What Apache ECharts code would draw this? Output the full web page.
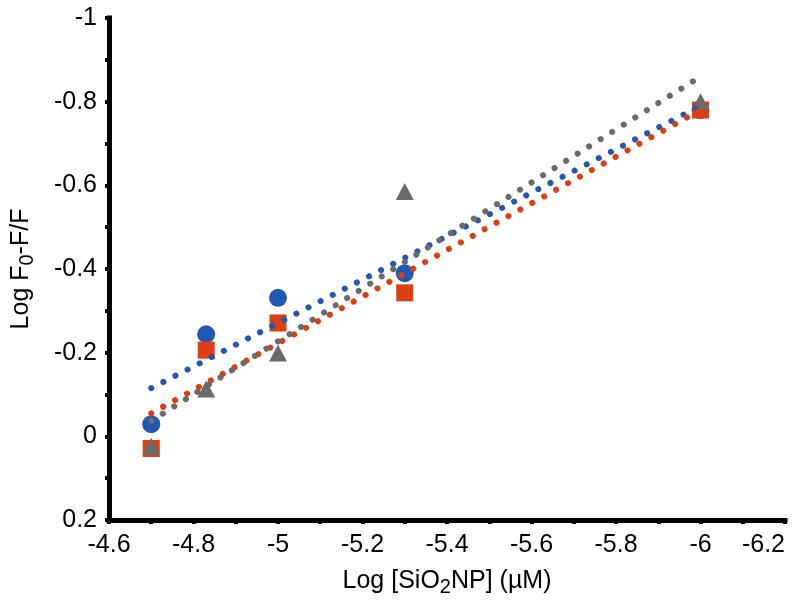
<!DOCTYPE html>
<html>
<head>
<meta charset="utf-8">
<script src="https://cdn.jsdelivr.net/npm/echarts@6/dist/echarts.min.js"></script>
<style>
html,body{margin:0;padding:0;background:#fff;}
#chart{width:803px;height:612px;}
</style>
</head>
<body>
<div id="chart"></div>
<script>
// Data
const xValues = [-4.7, -4.83, -5.0, -5.3, -6.0];
const circleY = [-0.029, -0.244, -0.331, -0.39, -0.78];
const squareY = [0.029, -0.206, -0.271, -0.343, -0.78];
const triangleY = [0.024, -0.113, -0.199, -0.585, -0.80];
// Dotted trend line end points
const trendX = [-4.7, -6.0];
const circleTrend = [-0.115, -0.79];
const squareTrend = [-0.055, -0.78];
const triangleTrend = [-0.037, -0.86];
// Axis ranges / ticks
const xMin = -6.2, xMax = -4.6, xStep = 0.2;
const yMin = -1, yMax = 0.2, yStep = 0.2;

const BLUE = '#2158B2', ORANGE = '#DC3F12', GRAY = '#6B6B6B';
const FONT = '"Liberation Sans", Arial, sans-serif';

function pairs(xs, ys) { return xs.map((x, i) => [x, ys[i]]); }

function fmt(v) {
  const r = Math.round(v * 10) / 10;
  return String(r === 0 ? 0 : r);
}

const axisCommon = {
  axisLine: { show: true, onZero: false, lineStyle: { color: '#000', width: 5, cap: 'square' } },
  axisTick: { show: true, inside: false, length: 4, lineStyle: { color: '#000', width: 4 } },
  minorTick: { show: true, splitNumber: 2, length: 4, lineStyle: { color: '#000', width: 4 } },
  splitLine: { show: false },
  axisLabel: { color: '#000', fontFamily: FONT, fontSize: 25, formatter: fmt }
};

const richTitle = {
  a: { fontFamily: FONT, fontSize: 25, color: '#000' },
  s: { fontFamily: FONT, fontSize: 20, color: '#000', padding: [12, 0, 0, 0] }
};

const chart = echarts.init(document.getElementById('chart'), null, { renderer: 'canvas' });

function trendSeries(ys, color) {
  return {
    type: 'line',
    data: pairs(trendX, ys),
    showSymbol: false,
    symbol: 'none',
    z: 5,
    silent: true,
    lineStyle: { color: color, width: 6, type: [0.1, 13.5], cap: 'round', opacity: 1 }
  };
}

chart.setOption({
  animation: false,
  backgroundColor: '#fff',
  grid: { left: 109, right: 18, top: 18, bottom: 92, containLabel: false, outerBoundsMode: 'none' },
  xAxis: Object.assign({}, axisCommon, {
    type: 'value', min: xMin, max: xMax, interval: xStep, inverse: true,
    axisLabel: Object.assign({}, axisCommon.axisLabel, { margin: 13, alignMinLabel: 'right' }),
    name: '{a|Log [SiO}{s|2}{a|NP] (µM)}',
    nameLocation: 'middle', nameGap: 45,
    nameTextStyle: { color: '#000', fontFamily: FONT, fontSize: 25, rich: richTitle }
  }),
  yAxis: Object.assign({}, axisCommon, {
    type: 'value', min: yMin, max: yMax, interval: yStep, inverse: true,
    axisLabel: Object.assign({}, axisCommon.axisLabel, { margin: 12 }),
    name: '{a|Log F}{s|0}{a|-F/F}',
    nameLocation: 'middle', nameGap: 72, nameRotate: 90,
    nameTextStyle: { color: '#000', fontFamily: FONT, fontSize: 25, rich: richTitle }
  }),
  series: [
    { type: 'scatter', data: pairs(xValues, circleY), symbol: 'circle', symbolSize: 18, z: 2,
      itemStyle: { color: BLUE, opacity: 1 } },
    { type: 'scatter', data: pairs(xValues, squareY), symbol: 'rect', symbolSize: 17, z: 3,
      itemStyle: { color: ORANGE, opacity: 1 } },
    { type: 'scatter', data: pairs(xValues, triangleY), symbol: 'triangle', symbolSize: [18, 17], z: 4,
      itemStyle: { color: GRAY, opacity: 1 } },
    trendSeries(circleTrend, BLUE),
    trendSeries(squareTrend, ORANGE),
    trendSeries(triangleTrend, GRAY)
  ]
});
</script>
</body>
</html>
